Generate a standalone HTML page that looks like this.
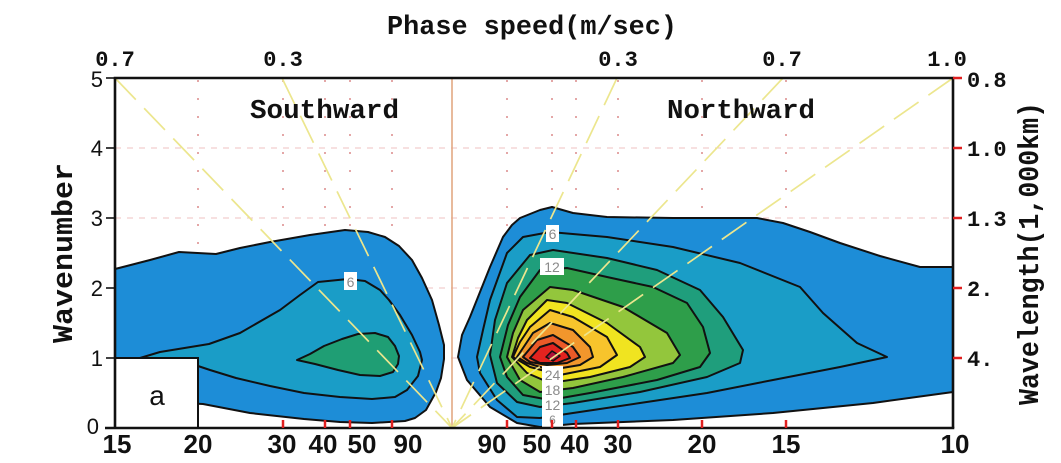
<!DOCTYPE html>
<html><head><meta charset="utf-8"><style>
html,body{margin:0;padding:0;background:#fff;}
svg{display:block;}
.mono{font-family:"Liberation Mono",monospace;font-weight:bold;fill:#111;}
.sans{font-family:"Liberation Sans",sans-serif;fill:#111;}
.lbl{font-family:"Liberation Sans",sans-serif;font-size:14px;fill:#8a8a8a;text-anchor:middle;}
</style></head><body>
<svg width="1061" height="463" viewBox="0 0 1061 463" xmlns="http://www.w3.org/2000/svg">
<rect width="1061" height="463" fill="#fff"/>

<!-- grid -->
<g stroke="#efc0c0" stroke-width="1" stroke-dasharray="6 6">
<line x1="115" y1="148" x2="953" y2="148"/><line x1="115" y1="218" x2="953" y2="218"/>
<line x1="115" y1="288" x2="953" y2="288"/><line x1="115" y1="358" x2="953" y2="358"/>
</g>
<g stroke="#dc8a8a" stroke-width="1.5" stroke-dasharray="2 16">
<line x1="198" y1="80" x2="198" y2="428"/><line x1="283" y1="80" x2="283" y2="428"/>
<line x1="325" y1="80" x2="325" y2="428"/><line x1="350" y1="80" x2="350" y2="428"/>
<line x1="392" y1="80" x2="392" y2="428"/><line x1="507" y1="80" x2="507" y2="428"/>
<line x1="552" y1="80" x2="552" y2="428"/><line x1="576" y1="80" x2="576" y2="428"/>
<line x1="618" y1="80" x2="618" y2="428"/><line x1="702" y1="80" x2="702" y2="428"/>
<line x1="786" y1="80" x2="786" y2="428"/>
</g>
<line x1="452" y1="78" x2="452" y2="428" stroke="#e0a47c" stroke-width="1.5"/>

<!-- left blob -->
<g stroke="#111" stroke-width="2" stroke-linejoin="round">
<polygon fill="#1d8dd7" points="115,269 150,260 179,252 216,254 240,248 270,242 310,235 345,230 368,232 385,237 399,246 412,260 422,278 432,300 439,325 444,345 444,359 441,378 436,392 426,410 415,418 405,421 372,423 340,422 304,419 250,413 203,404 160,402 115,400"/>
<polygon fill="#1a9dc7" points="140,358 160,352 209,344 240,333 280,310 300,295 318,282 348,279 365,281 380,290 389,300 400,315 412,335 420,352 422,360 418,376 407,390 395,397 372,399 340,397 304,393 270,386 236,378 210,370 198,366 170,362"/>
<polygon fill="#1f9e74" points="297,360 310,354 324,346 342,339 358,334 375,333 388,337 395,346 399,356 398,364 393,372 380,376 360,375 338,370 315,364"/>
</g>

<!-- right blob -->
<g stroke="#111" stroke-width="2" stroke-linejoin="round">
<polygon fill="#1d8dd7" points="458,357 462,335 470,317 480,292 490,267 503,237 512,225 520,218 540,210 552,207 573,213 607,217 673,218 757,218 783,223 810,232 840,243 880,256 920,267 953,267 953,392 873,403 773,413 673,420 573,424 540,427 517,423 490,407 467,380"/>
<polygon fill="#1a9dc7" points="477,357 483,330 490,300 507,253 523,237 550,232 607,237 673,247 740,263 800,287 823,313 857,343 887,357 840,367 773,380 707,393 640,403 573,413 540,418 517,417 497,400 480,373"/>
<polygon fill="#1f9e7c" points="490,355 495,320 507,283 530,255 553,250 607,258 657,270 700,290 723,317 743,350 740,363 707,377 640,392 573,403 540,407 517,402 497,383"/>
<polygon fill="#2e9e4a" points="500,357 508,325 520,297 540,270 567,268 607,277 653,287 687,303 703,327 710,353 700,367 657,380 590,393 550,400 523,395 507,377"/>
<polygon fill="#93c63c" points="507,357 513,333 523,310 550,287 573,290 623,307 667,333 680,355 673,363 623,377 573,388 540,392 520,380"/>
<polygon fill="#f0e420" points="512,357 518,338 527,320 547,300 567,303 607,323 640,347 645,357 630,367 590,377 550,383 527,373"/>
<polygon fill="#f7c42c" points="513,357 520,342 530,327 550,310 573,317 607,337 617,355 600,367 560,375 530,367"/>
<polygon fill="#f2962c" points="517,357 525,345 533,333 550,323 573,330 590,347 593,357 580,365 550,370 527,363"/>
<polygon fill="#ea5a28" points="523,357 537,340 553,335 573,347 580,357 567,363 547,365 530,362"/>
<polygon fill="#e2231f" points="530,358 540,347 553,343 567,353 570,358 557,363 540,363"/>
<polygon fill="#b0103a" stroke-width="1.5" points="546,357 552,351 560,356 553,361"/>
</g>

<!-- phase speed lines -->
<g stroke="#ece68e" stroke-width="1.7" stroke-dasharray="30 12" fill="none">
<line x1="115" y1="78" x2="452" y2="428"/>
<line x1="282" y1="78" x2="452" y2="428"/>
<line x1="617" y1="78" x2="452" y2="428"/>
<line x1="783" y1="78" x2="452" y2="428"/>
<line x1="953" y1="78" x2="452" y2="428"/>
</g>

<!-- contour labels -->
<rect x="344" y="272" width="13" height="18" fill="#fff"/>
<text class="lbl" x="350.5" y="287">6</text>
<rect x="546" y="225" width="13" height="17" fill="#fff"/>
<text class="lbl" x="552.5" y="239">6</text>
<rect x="540" y="258" width="24" height="17" fill="#fff"/>
<text class="lbl" x="552" y="272">12</text>
<rect x="542" y="366" width="21" height="62" fill="#fff"/>
<text class="lbl" x="552.5" y="380">24</text>
<text class="lbl" x="552.5" y="395">18</text>
<text class="lbl" x="552.5" y="410">12</text>
<text class="lbl" x="552.5" y="424" style="font-size:12px">6</text>

<!-- a box -->
<rect x="115" y="358" width="83" height="70" fill="#fff" stroke="#111" stroke-width="2"/>
<text class="sans" x="157" y="405" font-size="28" text-anchor="middle">a</text>

<!-- frame -->
<g stroke="#111" stroke-width="2.6" fill="none">
<line x1="113.7" y1="78" x2="954.3" y2="78"/>
<line x1="105" y1="428" x2="954.3" y2="428"/>
<line x1="115" y1="78" x2="115" y2="428"/>
<line x1="953" y1="78" x2="953" y2="428"/>
</g>
<g stroke="#111" stroke-width="1.6">
<line x1="106" y1="78" x2="115" y2="78"/><line x1="106" y1="148" x2="115" y2="148"/>
<line x1="106" y1="218" x2="115" y2="218"/><line x1="106" y1="288" x2="115" y2="288"/>
<line x1="106" y1="358" x2="115" y2="358"/>
</g>
<g stroke="#e02020" stroke-width="2.5">
<line x1="283" y1="420" x2="283" y2="428"/><line x1="325" y1="420" x2="325" y2="428"/>
<line x1="350" y1="420" x2="350" y2="428"/><line x1="392" y1="420" x2="392" y2="428"/>
<line x1="507" y1="420" x2="507" y2="428"/><line x1="552" y1="420" x2="552" y2="428"/>
<line x1="576" y1="420" x2="576" y2="428"/><line x1="618" y1="420" x2="618" y2="428"/>
<line x1="702" y1="420" x2="702" y2="428"/><line x1="786" y1="420" x2="786" y2="428"/>
<line x1="953" y1="78" x2="962" y2="78"/><line x1="953" y1="148" x2="962" y2="148"/>
<line x1="953" y1="218" x2="962" y2="218"/><line x1="953" y1="288" x2="962" y2="288"/>
<line x1="953" y1="358" x2="962" y2="358"/>
</g>

<!-- titles -->
<text class="mono" x="387" y="34" font-size="27" textLength="290" lengthAdjust="spacingAndGlyphs">Phase speed(m/sec)</text>
<text class="mono" x="250" y="118" font-size="27" textLength="149" lengthAdjust="spacingAndGlyphs">Southward</text>
<text class="mono" x="667" y="118" font-size="27" textLength="148" lengthAdjust="spacingAndGlyphs">Northward</text>
<text class="mono" transform="translate(72,343) rotate(-90)" font-size="29" textLength="180" lengthAdjust="spacingAndGlyphs">Wavenumber</text>
<text class="mono" transform="translate(1038,405) rotate(-90)" font-size="29" textLength="303" lengthAdjust="spacingAndGlyphs">Wavelength(1,000km)</text>

<!-- top labels -->
<g class="mono" font-size="22" text-anchor="middle">
<text x="115" y="66">0.7</text><text x="283" y="66">0.3</text>
<text x="618" y="66">0.3</text><text x="782" y="66">0.7</text>
<text x="947" y="66">1.0</text>
</g>
<!-- right labels -->
<g class="mono" font-size="22">
<text x="967" y="87">0.8</text><text x="967" y="156">1.0</text>
<text x="967" y="226">1.3</text><text x="967" y="296">2.</text>
<text x="967" y="366">4.</text>
</g>
<!-- left labels -->
<g class="sans" font-size="22" text-anchor="end">
<text x="103" y="87">5</text><text x="103" y="156">4</text>
<text x="103" y="226">3</text><text x="103" y="296">2</text>
<text x="103" y="366">1</text><text x="99" y="434">0</text>
</g>
<!-- bottom labels -->
<g class="sans" font-size="26" font-weight="bold" text-anchor="middle">
<text x="117" y="453">15</text><text x="198" y="453">20</text>
<text x="282" y="453">30</text><text x="323" y="453">40</text>
<text x="362" y="453">50</text><text x="408" y="453">90</text>
<text x="492" y="453">90</text><text x="537" y="453">50</text>
<text x="575" y="453">40</text><text x="618" y="453">30</text>
<text x="702" y="453">20</text><text x="786" y="453">15</text>
<text x="955" y="453">10</text>
</g>
</svg>
</body></html>
